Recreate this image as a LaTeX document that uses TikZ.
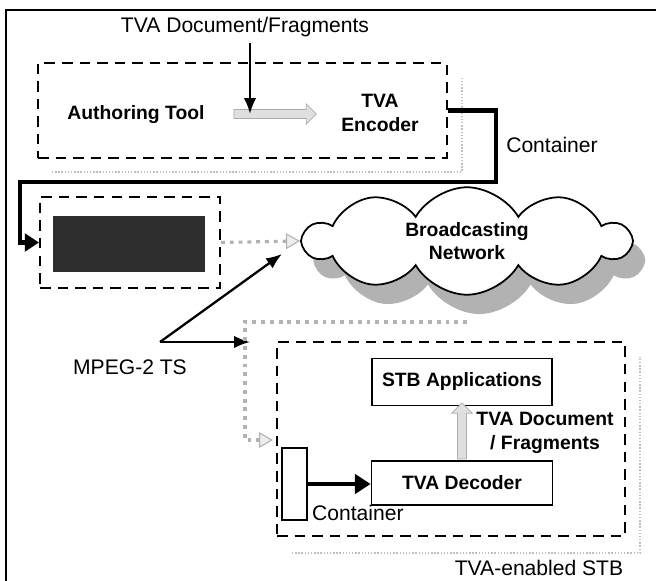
\documentclass[tikz,border=0pt]{standalone}
\usepackage{fontspec}
\setmainfont{Liberation Sans}
\usetikzlibrary{arrows.meta,shapes.symbols,shapes.arrows,shadows,fit}
\colorlet{shadowgray}{gray!50}
\colorlet{pipegray}{gray!60}

\begin{document}
\begin{tikzpicture}[x=0.02cm,y=-0.02cm,
  lbl/.style={font=\fontsize{12}{14}\selectfont},
  blbl/.style={font=\fontsize{11}{13.5}\selectfont\bfseries},
  dashbox/.style={draw,line width=1.2pt,dash pattern=on 6pt off 4pt,inner sep=0pt},
  shadowline/.style={draw=shadowgray,densely dotted,line width=0.8pt},
  solidbox/.style={draw,line width=1pt,blbl,inner sep=0pt},
  pipe/.style={pipegray,line width=1.8pt,dash pattern=on 2.2pt off 2.8pt},
  pipetip/.style={-{Triangle[open,length=8pt,width=9pt,fill=gray!15,line width=0.6pt]}},
  blackarrow/.style={line width=1.3pt,-{Latex[length=9pt,width=7pt]}},
  fatarrow/.style={single arrow,draw=gray!65,fill=gray!25,inner sep=2.4pt,
    single arrow head extend=3.2pt,single arrow head indent=0pt}]
\useasboundingbox (0,0) rectangle (656,581);
\draw[line width=1.4pt] (6,581) -- (6,10) -- (656,10);

\node[lbl] (tvadoc) at (245,27) {TVA Document/Fragments};

\draw[shadowline] (52,172) -| (462,77);
\node[dashbox,fit={(38,63) (447,158)}] (encbox) {};
\node[blbl] (author) at (136,115) {Authoring Tool};
\node[blbl,align=center] (enc) at (380,113) {TVA\\Encoder};
\path (author.east) -- node[fatarrow,minimum height=1.65cm]{} (enc.west);
\coordinate (mix) at (250,114);
\draw[blackarrow] (tvadoc.south -| mix) -- (mix);

\node[dashbox,fit={(40,197) (220,288)}] (muxbox) {};
\node[fill=black!82,fit={(53,216) (205,272)},inner sep=0pt] (mux) {};
\draw[line width=2.6pt,-{Triangle[length=8pt,width=10pt]}]
  (encbox.east) -| (496,182) -- (20,182) |- (muxbox.west);
\node[lbl] (contlbl) at (552,145) {Container};

\node[cloud,draw,line width=1pt,fill=white,cloud puffs=10,cloud puff arc=120,aspect=3,
  minimum width=6.5cm,minimum height=2.15cm,blbl,align=center,
  drop shadow={shadow xshift=7pt,shadow yshift=-11pt,fill=gray!60,opacity=1}]
  (net) at (467,241) {Broadcasting\\Network};
\draw[pipe,pipetip] (muxbox.east) -- (net.west);

\node[lbl] (ts) at (130,367) {MPEG-2 TS};
\coordinate (split) at (160,342);
\coordinate (tsnet) at (282,254);
\coordinate (tsstb) at (250,342);
\draw[blackarrow] (split) -- (tsnet);
\draw[blackarrow] (split) -- (tsstb);

\draw[shadowline] (292,553) -| (640,357);
\node[dashbox,fit={(277,342) (625,536)}] (stbbox) {};
\coordinate (netout) at (467,322);
\coordinate (stbin) at (273,440);
\draw[pipe,pipetip] (netout) -| (245,440) -- (stbin);

\node[solidbox,minimum width=3.6cm,minimum height=0.94cm] (apps) at (462,382) {STB Applications};
\node[solidbox,minimum width=3.62cm,minimum height=0.88cm] (dec) at (462,483) {TVA Decoder};
\path (dec.north) -- node[fatarrow,shape border rotate=90,minimum height=1.12cm]{} (apps.south);
\node[blbl,align=center] (declbl) at (545,433) {TVA Document\\/ Fragments};

\node[draw,line width=1pt,minimum width=0.5cm,minimum height=1.44cm,inner sep=0pt] (cont) at (294.5,484) {};
\draw[line width=2.4pt,-{Triangle[length=9pt,width=11pt]}] (cont.east) -- (cont.east -| dec.west);
\node[lbl,anchor=west] (contlbl2) at (306,513) {Container};

\node[lbl] (stblbl) at (539,568) {TVA-enabled STB};
\end{tikzpicture}
\end{document}
